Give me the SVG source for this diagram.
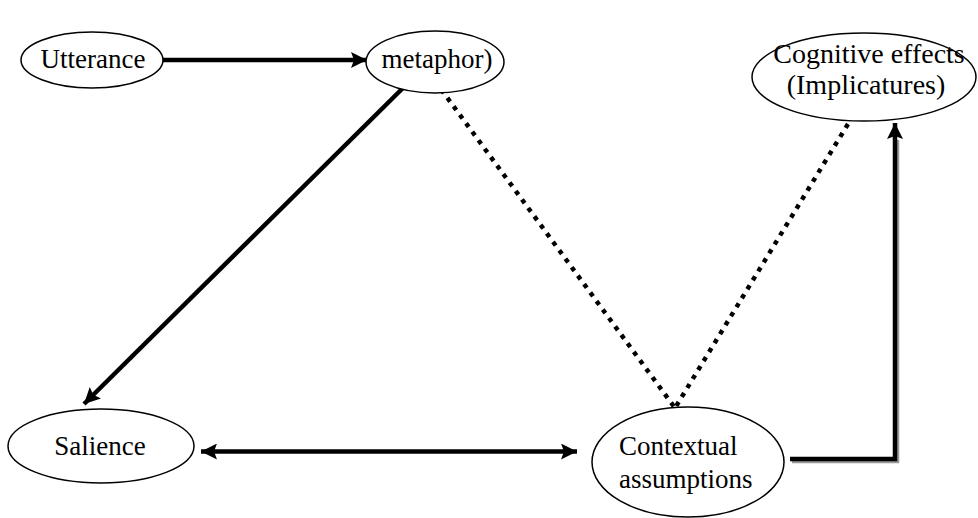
<svg xmlns="http://www.w3.org/2000/svg" width="978" height="518" viewBox="0 0 978 518">
<style>
.node ellipse{fill:#fff;stroke:#000;stroke-width:1.5}
.c{text-anchor:middle}
.solid{fill:none;stroke:#000;stroke-width:4.5}
.shadow{fill:none;stroke:#999;stroke-width:4.5}
.dot{fill:none;stroke:#000;stroke-width:4.5;stroke-dasharray:4.5 6}
</style>
<defs>
<marker id="ah" markerUnits="userSpaceOnUse" markerWidth="18" markerHeight="18" refX="16" refY="8" orient="auto">
<path d="M0,0 L16,8 L0,16 L3,8 Z" fill="#000"/>
</marker>
<marker id="as" markerUnits="userSpaceOnUse" markerWidth="18" markerHeight="18" refX="0" refY="8" orient="auto">
<path d="M16,0 L0,8 L16,16 L13,8 Z" fill="#000"/>
</marker>
</defs>
<g id="connectors">
<line class="solid" x1="163" y1="60" x2="367" y2="60" marker-end="url(#ah)"/>
<line class="solid" x1="411" y1="80" x2="84" y2="404" marker-end="url(#ah)"/>
<line class="dot" x1="435" y1="81" x2="675" y2="408"/>
<line class="dot" x1="848" y1="124" x2="675" y2="408"/>
<line class="solid" x1="201" y1="451.5" x2="577" y2="451.5" marker-start="url(#as)" marker-end="url(#ah)"/>
<polyline class="shadow" points="792,461 897,461 897,140"/>
<polyline class="solid" points="790,459 895,459 895,123" marker-end="url(#ah)"/>
</g>
<g font-family="Liberation Serif, Times New Roman, serif" font-size="27" fill="#000">
<g id="utterance" class="node">
<ellipse cx="92" cy="60" rx="71" ry="28"/>
<text class="c" x="93" y="68" font-family="Liberation Serif, serif" font-size="27">Utterance</text>
</g>
<g id="metaphor" class="node">
<ellipse cx="435" cy="62" rx="69" ry="31"/>
<text class="c" x="437" y="68" font-family="Liberation Serif, serif" font-size="27">metaphor)</text>
</g>
<g id="cognitive" class="node">
<ellipse cx="864" cy="77" rx="112" ry="44"/>
<text class="c" x="869" y="63" font-family="Liberation Serif, serif" font-size="28">Cognitive effects</text>
<text class="c" x="866" y="94" font-family="Liberation Serif, serif" font-size="28">(Implicatures)</text>
</g>
<g id="salience" class="node">
<ellipse cx="101" cy="446" rx="93" ry="37"/>
<text class="c" x="100" y="455" font-family="Liberation Serif, serif" font-size="27">Salience</text>
</g>
<g id="contextual" class="node">
<ellipse cx="688" cy="462" rx="96" ry="55"/>
<text x="619" y="455" font-family="Liberation Serif, serif" font-size="27">Contextual</text>
<text x="619" y="488" font-family="Liberation Serif, serif" font-size="27">assumptions</text>
</g>
</g>
</svg>
